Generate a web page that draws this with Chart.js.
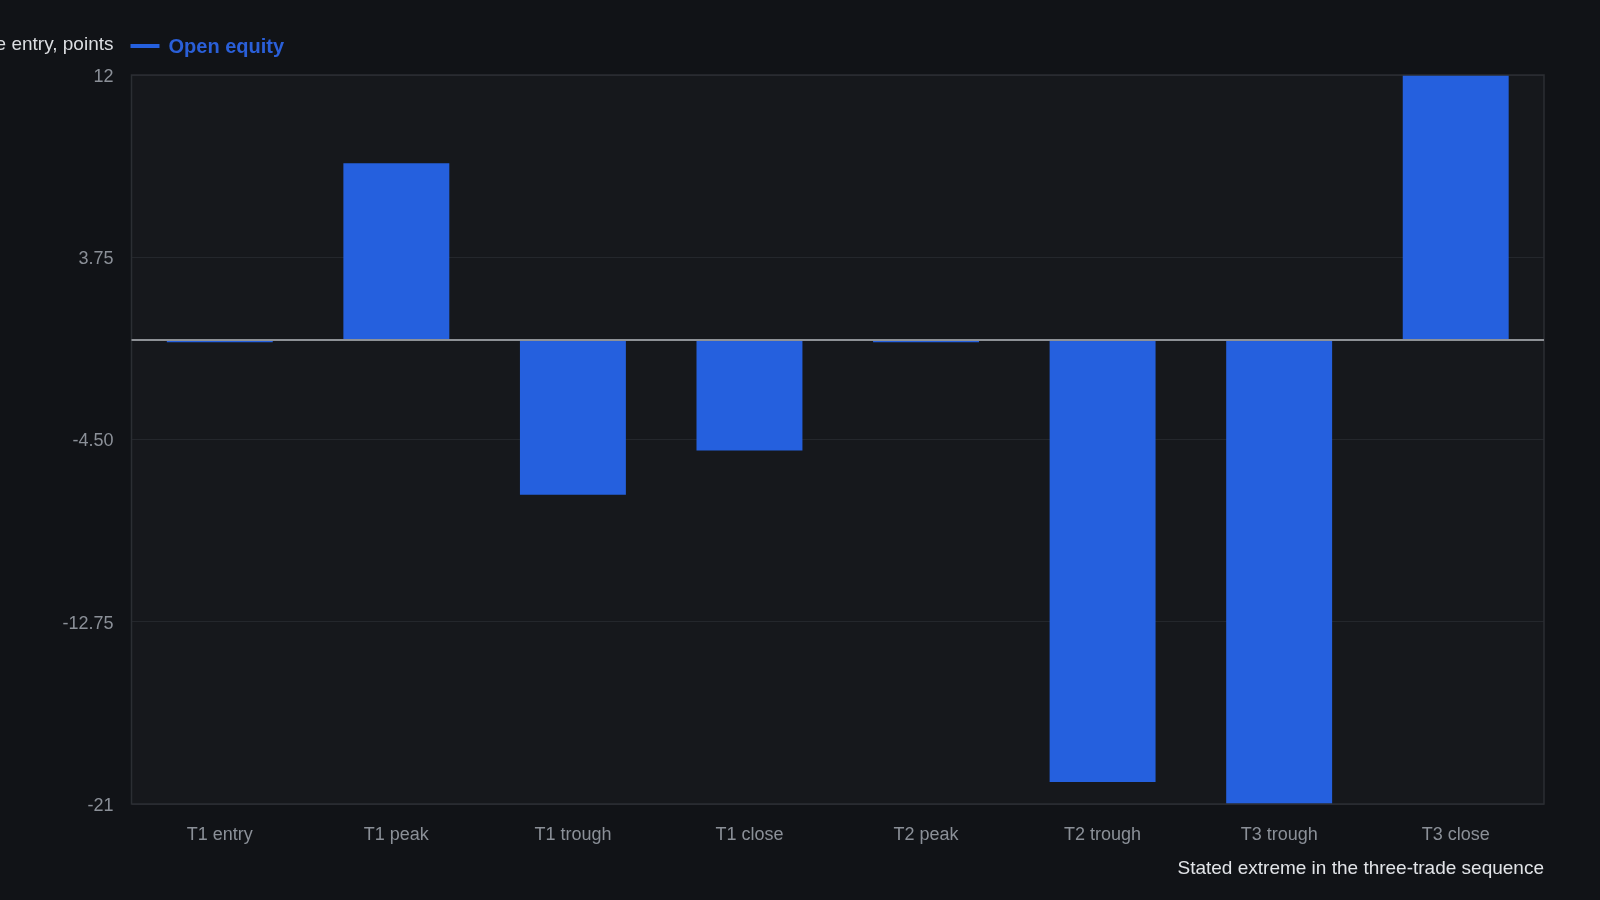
<!DOCTYPE html>
<html><head><meta charset="utf-8">
<script src="https://cdn.jsdelivr.net/npm/chart.js@4.4.1/dist/chart.umd.min.js"></script>
<style>html,body{margin:0;padding:0;background:#111317;}#wrap{width:1600px;height:900px;}</style>
</head><body><div id="wrap"><canvas id="c" width="1600" height="900"></canvas></div>
<script>
const categories = ['T1 entry','T1 peak','T1 trough','T1 close','T2 peak','T2 trough','T3 trough','T3 close'];
const openEquity = [-0.1, 8, -7, -5, -0.1, -20, -21, 12];
const yTicks = [12, 3.75, -4.5, -12.75, -21];
const seriesName = 'Open equity';
const yTitle = 'Open equity relative to trade entry, points';
const xTitle = 'Stated extreme in the three-trade sequence';

const FONT = "'Liberation Sans', Arial, sans-serif";
const BAR = '#2560de';

const deco = {
  id: 'deco',
  beforeDraw(chart) {
    const {ctx, chartArea: a} = chart;
    ctx.save();
    ctx.fillStyle = '#111317';
    ctx.fillRect(0, 0, chart.width, chart.height);
    ctx.fillStyle = '#16181c';
    ctx.fillRect(a.left, a.top, a.right - a.left, a.bottom - a.top);
    ctx.restore();
  },
  afterDraw(chart) {
    const {ctx, chartArea: a} = chart;
    ctx.save();
    ctx.strokeStyle = '#2b2e33';
    ctx.lineWidth = 1.5;
    ctx.strokeRect(a.left, a.top, a.right - a.left, a.bottom - a.top);
    const y0 = chart.scales.y.getPixelForValue(0);
    ctx.strokeStyle = '#8e9196';
    ctx.lineWidth = 2;
    ctx.beginPath(); ctx.moveTo(a.left, y0); ctx.lineTo(a.right, y0); ctx.stroke();
    ctx.font = '19px ' + FONT;
    ctx.fillStyle = '#dcdee2';
    ctx.textAlign = 'right';
    ctx.textBaseline = 'middle';
    ctx.fillText(yTitle, a.left - 18, 45);
    ctx.strokeStyle = BAR;
    ctx.lineWidth = 4;
    ctx.beginPath(); ctx.moveTo(a.left - 1, 46); ctx.lineTo(a.left + 28, 46); ctx.stroke();
    ctx.font = 'bold 20px ' + FONT;
    ctx.fillStyle = '#2a5fd8';
    ctx.textAlign = 'left';
    ctx.fillText(seriesName, a.left + 37, 47);
    ctx.restore();
  }
};

new Chart(document.getElementById('c'), {
  type: 'bar',
  data: {
    labels: categories,
    datasets: [{
      label: seriesName,
      data: openEquity,
      backgroundColor: BAR,
      borderWidth: 0,
      categoryPercentage: 1,
      barPercentage: 0.6
    }]
  },
  options: {
    responsive: false,
    animation: false,
    devicePixelRatio: 1,
    layout: { padding: { top: 75, right: 56, bottom: 12, left: 0 } },
    plugins: { legend: { display: false }, tooltip: { enabled: false } },
    scales: {
      x: {
        grid: { display: false },
        border: { display: false },
        ticks: { color: '#8b9098', font: { family: FONT, size: 18 }, padding: 12 },
        title: { display: true, text: xTitle, align: 'end', color: '#e2e4e8',
                 font: { family: FONT, size: 19 }, padding: { top: 0, bottom: 8 } },
        afterFit(s) { s.height = 84; }
      },
      y: {
        min: -21, max: 12,
        afterBuildTicks(s) { s.ticks = yTicks.map(v => ({ value: v })); },
        grid: { color: '#24272c', lineWidth: 1, drawTicks: false },
        border: { display: false },
        ticks: {
          color: '#8b9098', font: { family: FONT, size: 18 }, padding: 18, labelOffset: 2,
          callback(v) { return (v === 3.75 || v === -12.75) ? v.toFixed(2) : (v === -4.5 ? '-4.50' : String(v)); }
        },
        afterFit(s) { s.width = 131.5; }
      }
    }
  },
  plugins: [deco]
});
</script></body></html>
